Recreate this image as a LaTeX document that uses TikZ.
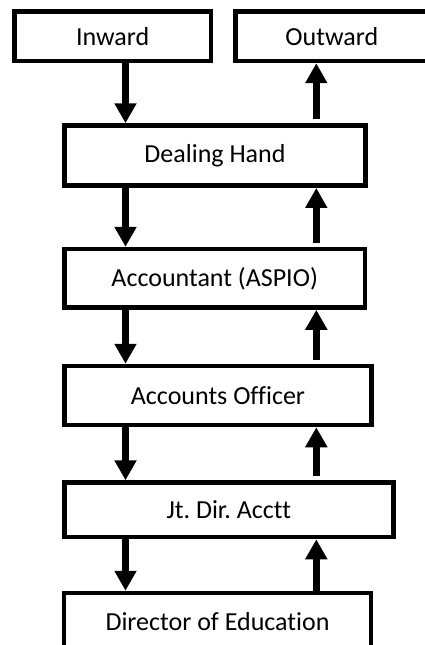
\documentclass[tikz,border=0pt]{standalone}
\usepackage{fontspec}
\setmainfont{Carlito}[Ligatures=NoCommon]
\usepackage{tikz}
\usetikzlibrary{arrows.meta, positioning, calc}
\frenchspacing

\begin{document}
\begin{tikzpicture}[
  x=1pt, y=1pt,
  every node/.style={rectangle, draw=black, line width=4.5pt, fill=white, font=\fontsize{26}{30}\selectfont, text centered, inner sep=0pt},
  flow/.style={line width=6.7pt, -{Triangle[length=20pt, width=21pt]}}
]
  \useasboundingbox (0,0) rectangle (424,-645);
  \coordinate (lx) at (125.5,0);
  \coordinate (rx) at (316.3,0);

  \node[minimum width=196.7pt, minimum height=49.3pt] (inward) at (112.7,-36.3) {Inward};
  \node[minimum width=192.3pt, minimum height=49.3pt] (outward) at (331.8,-36.3) {Outward};
  \node[minimum width=301.4pt, minimum height=60.2pt] (dealing) at (215,-155.6) {Dealing Hand};
  \node[minimum width=300.7pt, minimum height=58.5pt] (accountant) at (214.7,-278.3) {Accountant (ASPIO)};
  \node[minimum width=307.4pt, minimum height=59pt] (officer) at (218,-395.5) {Accounts Officer};
  \node[minimum width=329pt, minimum height=54.5pt] (jtdir) at (228.8,-509.8) {Jt. Dir. Acctt};
  \node[minimum width=306.6pt, minimum height=58pt] (director) at (217.5,-622) {Director of Education};

  % file going down
  \draw[flow] (inward.south -| lx) -- (dealing.north -| lx);
  \draw[flow] (dealing.south -| lx) -- (accountant.north -| lx);
  \draw[flow] (accountant.south -| lx) -- (officer.north -| lx);
  \draw[flow] (officer.south -| lx) -- (jtdir.north -| lx);
  \draw[flow] (jtdir.south -| lx) -- (director.north -| lx);

  % file coming back
  \draw[flow, shorten <=4pt] (dealing.north -| rx) -- (outward.south -| rx);
  \draw[flow, shorten <=4pt] (accountant.north -| rx) -- (dealing.south -| rx);
  \draw[flow, shorten <=4pt] (officer.north -| rx) -- (accountant.south -| rx);
  \draw[flow, shorten <=4pt] (jtdir.north -| rx) -- (officer.south -| rx);
  \draw[flow] (director.north -| rx) -- (jtdir.south -| rx);
\end{tikzpicture}
\end{document}
